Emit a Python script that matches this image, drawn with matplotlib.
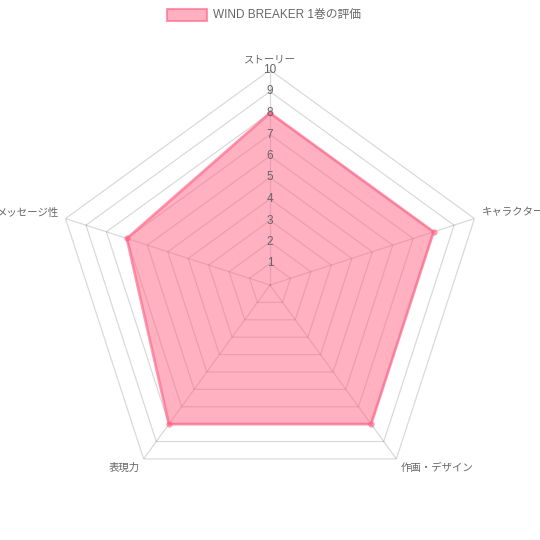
import numpy as np
import matplotlib
matplotlib.use('Agg')
from matplotlib import pyplot as plt
from matplotlib.patches import Rectangle

plt.rcParams['font.family'] = ['Liberation Sans', 'Noto Sans CJK JP', 'DejaVu Sans']

categories = ['ストーリー', 'キャラクター', '作画・デザイン', '表現力', 'メッセージ性']
values = [8, 8, 8, 8, 7]
series_name = 'WIND BREAKER 1巻の評価'
ticks = [1, 2, 3, 4, 5, 6, 7, 8, 9, 10]

pink = (255/255, 99/255, 132/255)
grey_txt = '#666666'

fig = plt.figure(figsize=(5.4, 5.4), dpi=100)
# polar axes, centre at (270,285) px, radius 215 px
ax = fig.add_axes([55/540, 40/540, 430/540, 430/540], projection='polar')
ax.set_theta_offset(np.pi / 2)
ax.set_theta_direction(-1)
ax.set_ylim(0, 10)
ax.grid(False)
ax.spines['polar'].set_visible(False)
ax.set_xticks([])
ax.set_yticks([])
ax.patch.set_alpha(0)

n = len(categories)
th = np.arange(n) * 2 * np.pi / n
th_c = np.append(th, th[0])

# polygon grid + angle lines
for r in ticks:
    ax.plot(th_c, [r] * (n + 1), color='black', alpha=0.15, lw=0.9, zorder=1)
for t in th:
    ax.plot([t, t], [0, 10], color='black', alpha=0.15, lw=0.9, zorder=1)

# data
v_c = values + values[:1]
ax.fill(th_c, v_c, color=pink, alpha=0.5, lw=0, zorder=2)
ax.plot(th_c, v_c, color=pink, alpha=0.65, lw=2, zorder=3)
ax.plot(th, values, 'o', color=pink, alpha=0.65, ms=4.5, mew=0, zorder=4)

# radial tick labels
for r in ticks:
    ax.text(0, r, str(r), ha='center', va='center', fontsize=8.5,
            color=grey_txt, zorder=5)

# point labels
offs = [(0, 6, 'center', 'bottom'),
        (7, 6, 'left', 'center'),
        (4, -4, 'left', 'top'),
        (-4, -4, 'right', 'top'),
        (-6, 6, 'right', 'center')]
for t, lab, (dx, dy, ha, va) in zip(th, categories, offs):
    ax.annotate(lab, xy=(t, 10), xytext=(dx, dy), textcoords='offset pixels',
                ha=ha, va=va, fontsize=7.5, color=grey_txt,
                annotation_clip=False)

# legend
fig.patches.append(Rectangle((167/540, 1 - 21/540), 40/540, 12/540,
                             transform=fig.transFigure, facecolor=pink + (0.5,),
                             edgecolor=pink + (0.65,), lw=1.5))
fig.text(213/540, 1 - 15/540, series_name, ha='left', va='center',
         fontsize=8.5, color=grey_txt)

fig.savefig('out.png', dpi=100)
